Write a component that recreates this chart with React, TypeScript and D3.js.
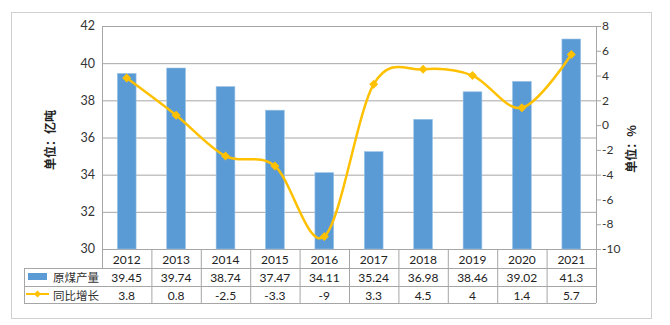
import React from "react";
import * as d3 from "d3";

const years = ["2012", "2013", "2014", "2015", "2016", "2017", "2018", "2019", "2020", "2021"];
const output = [39.45, 39.74, 38.74, 37.47, 34.11, 35.24, 36.98, 38.46, 39.02, 41.3];
const growth = [3.8, 0.8, -2.5, -3.3, -9, 3.3, 4.5, 4, 1.4, 5.7];
const leftTicks = [30, 32, 34, 36, 38, 40, 42];
const rightTicks = [-10, -8, -6, -4, -2, 0, 2, 4, 6, 8];
const outputName = "原煤产量";
const growthName = "同比增长";

const W = 670, H = 325;
const PL = 102, PR = 596, PT = 26, PB = 249;
const ROW1 = 268, ROW2 = 286, ROW3 = 303, TABLE_L = 24;
const GRID = "#a6a6a6";
const BAR = "#5b9bd5";
const LINE = "#ffc000";
const NUM_FONT = "Lato, 'Open Sans', sans-serif";
const CJK = "'Noto Sans CJK SC', sans-serif";

export default function App() {
  const x = d3.scaleBand<string>().domain(years).range([PL, PR]).paddingInner(0).paddingOuter(0);
  const yL = d3.scaleLinear().domain([30, 42]).range([PB, PT]);
  const yR = d3.scaleLinear().domain([-10, 8]).range([PB, PT]);
  const bw = x.bandwidth();
  const barW = bw * 0.38;
  const cx = (y: string) => (x(y) as number) + bw / 2;

  const linePath = d3
    .line<number>()
    .x((_, i) => cx(years[i]))
    .y((d) => yR(d))
    .curve(d3.curveCardinal.tension(0))(growth) as string;

  const diamond = (px: number, py: number, r: number) =>
    `M${px},${py - r}L${px + r},${py}L${px},${py + r}L${px - r},${py}Z`;

  return (
    <svg width={W} height={H} style={{ position: "absolute", left: 0, top: 0, background: "#fff" }}>
      <rect x={11.5} y={12.5} width={640} height={306} fill="#fff" stroke="#d0d0d0" />
      {/* gridlines */}
      {leftTicks.map((t) => (
        <line key={t} x1={PL} x2={PR} y1={yL(t) + 0.5} y2={yL(t) + 0.5} stroke={GRID} />
      ))}
      {/* bars */}
      {output.map((v, i) => (
        <rect
          key={years[i]}
          x={cx(years[i]) - barW / 2}
          y={yL(v)}
          width={barW}
          height={PB - yL(v)}
          fill={BAR}
          stroke="#9dc3e6"
          strokeWidth={0.6}
        />
      ))}
      {/* axes */}
      <line x1={PL + 0.5} x2={PL + 0.5} y1={PT} y2={ROW1} stroke={GRID} />
      <line x1={PR + 0.5} x2={PR + 0.5} y1={PT} y2={ROW3} stroke={GRID} />
      {rightTicks.map((t) => (
        <g key={t}>
          <line x1={PR} x2={PR + 5} y1={yR(t) + 0.5} y2={yR(t) + 0.5} stroke={GRID} />
          <text x={PR + 6} y={yR(t)} dy="0.35em" fontSize={12} fontFamily={NUM_FONT} fill="#333">
            {t}
          </text>
        </g>
      ))}
      {leftTicks.map((t) => (
        <text key={t} x={95} y={yL(t)} dy="0.35em" textAnchor="end" fontSize={12.5} fontFamily={NUM_FONT} fill="#333">
          {t}
        </text>
      ))}
      {/* line */}
      <path d={linePath} fill="none" stroke={LINE} strokeWidth={2.5} />
      {growth.map((v, i) => (
        <path key={years[i]} d={diamond(cx(years[i]), yR(v), 4.5)} fill={LINE} />
      ))}
      {/* axis titles */}
      <text
        transform={`translate(55,140) rotate(-90)`}
        textAnchor="middle"
        fontSize={12}
        fontWeight="bold"
        fontFamily={CJK}
        fill="#222"
      >
        单位：亿吨
      </text>
      <text
        transform={`translate(636,149) rotate(-90)`}
        textAnchor="middle"
        fontSize={12}
        fontWeight="bold"
        fontFamily={CJK}
        fill="#222"
      >
        单位：%
      </text>
      {/* table */}
      {[ROW1, ROW2, ROW3].map((yy) => (
        <line key={yy} x1={yy === ROW1 ? TABLE_L : TABLE_L} x2={PR} y1={yy + 0.5} y2={yy + 0.5} stroke={GRID} />
      ))}
      <line x1={TABLE_L + 0.5} x2={TABLE_L + 0.5} y1={ROW1} y2={ROW3} stroke={GRID} />
      {years.map((yr, i) =>
        i > 0 ? (
          <line key={yr} x1={(x(yr) as number) + 0.5} x2={(x(yr) as number) + 0.5} y1={PB} y2={ROW3} stroke={GRID} />
        ) : null
      )}
      {years.map((yr, i) => (
        <g key={yr} fontFamily={NUM_FONT} fontSize={12} fill="#222" textAnchor="middle">
          <text x={cx(yr)} y={(PB + ROW1) / 2 + 1} dy="0.35em">{yr}</text>
          <text x={cx(yr)} y={(ROW1 + ROW2) / 2 + 1} dy="0.35em">{output[i]}</text>
          <text x={cx(yr)} y={(ROW2 + ROW3) / 2 + 1} dy="0.35em">{growth[i]}</text>
        </g>
      ))}
      {/* legend cells */}
      <rect x={28} y={273} width={19} height={7} fill={BAR} />
      <text x={53} y={(ROW1 + ROW2) / 2 + 1} dy="0.35em" fontSize={11.5} fontFamily={CJK} fill="#333">
        {outputName}
      </text>
      <line x1={26} x2={49} y1={294} y2={294} stroke={LINE} strokeWidth={2} />
      <path d={diamond(37.5, 294, 3.5)} fill={LINE} />
      <text x={53} y={(ROW2 + ROW3) / 2 + 1} dy="0.35em" fontSize={11.5} fontFamily={CJK} fill="#333">
        {growthName}
      </text>
    </svg>
  );
}
